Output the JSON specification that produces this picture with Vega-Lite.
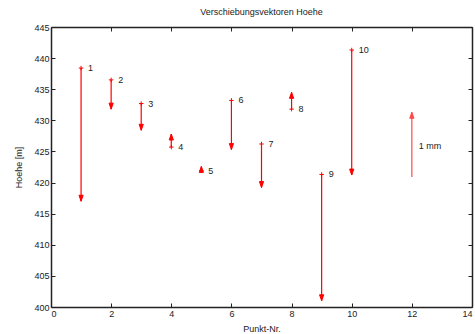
{
  "$schema": "https://vega.github.io/schema/vega-lite/v6.json",
  "autosize": "none",
  "width": 421,
  "height": 280,
  "padding": {"left": 51, "top": 27, "right": 3, "bottom": 27},
  "background": "white",
  "config": {
    "view": {"stroke": null},
    "font": "Liberation Sans",
    "axis": {
      "grid": false,
      "domainColor": "#222222",
      "domainWidth": 1.5,
      "tickColor": "#222222",
      "tickWidth": 1,
      "tickSize": -4,
      "labelFont": "Liberation Sans",
      "labelFontSize": 9,
      "labelColor": "#222222",
      "titleFont": "Liberation Sans",
      "titleFontSize": 9,
      "titleFontWeight": "normal",
      "titleColor": "#222222"
    },
    "title": {"font": "Liberation Sans", "fontSize": 9, "fontWeight": "normal", "color": "#222222", "offset": 6}
  },
  "title": {"text": "Verschiebungsvektoren Hoehe", "anchor": "middle"},
  "datasets": {
    "vectors": [
      {"punkt": 1, "nr": "1", "start": 438.4, "end": 417.0},
      {"punkt": 2, "nr": "2", "start": 436.5, "end": 431.8},
      {"punkt": 3, "nr": "3", "start": 432.7, "end": 428.4},
      {"punkt": 4, "nr": "4", "start": 425.7, "end": 427.8},
      {"punkt": 5, "nr": "5", "start": 421.9, "end": 422.6},
      {"punkt": 6, "nr": "6", "start": 433.2, "end": 425.3},
      {"punkt": 7, "nr": "7", "start": 426.2, "end": 419.2},
      {"punkt": 8, "nr": "8", "start": 431.8, "end": 434.5},
      {"punkt": 9, "nr": "9", "start": 421.3, "end": 401.0},
      {"punkt": 10, "nr": "10", "start": 441.3, "end": 421.2}
    ],
    "scalebar": [
      {"punkt": 12, "start": 420.9, "end": 431.3}
    ],
    "scalelabel": [
      {"punkt": 12, "hoehe": 425.9, "text": "1 mm"}
    ]
  },
  "resolve": {"axis": {"x": "independent", "y": "independent"}},
  "layer": [
    {
      "data": {"name": "vectors"},
      "mark": {"type": "rule", "color": "#ff0000", "strokeWidth": 1.2},
      "encoding": {
        "x": {"field": "punkt", "type": "quantitative",
              "scale": {"domain": [0, 14], "nice": false, "zero": false},
              "axis": {"orient": "bottom", "title": "Punkt-Nr.", "values": [0, 2, 4, 6, 8, 10, 12, 14],
                       "labelPadding": 6, "titlePadding": 6}},
        "y": {"field": "start", "type": "quantitative",
              "scale": {"domain": [400, 445], "nice": false, "zero": false},
              "axis": {"orient": "left", "title": "Hoehe [m]", "values": [400, 405, 410, 415, 420, 425, 430, 435, 440, 445],
                       "labelPadding": 6, "titlePadding": 10}},
        "y2": {"field": "end"}
      }
    },
    {
      "data": {"name": "vectors"},
      "mark": {"type": "point", "shape": "M-1,0L1,0M0,-1L0,1", "filled": false, "color": "#ff0000", "strokeWidth": 1, "size": 20, "opacity": 1},
      "encoding": {
        "x": {"field": "punkt", "type": "quantitative",
              "axis": {"orient": "top", "title": null, "labels": false, "values": [0, 2, 4, 6, 8, 10, 12, 14]}},
        "y": {"field": "start", "type": "quantitative",
              "axis": {"orient": "right", "title": null, "labels": false, "values": [400, 405, 410, 415, 420, 425, 430, 435, 440, 445]}}
      }
    },
    {
      "data": {"name": "vectors"},
      "mark": {"type": "point", "shape": "M-0.7,-2L0,0L0.7,-2Z", "filled": true, "color": "#ff0000", "stroke": "#ff0000", "strokeWidth": 1, "size": 36, "opacity": 1},
      "encoding": {
        "x": {"field": "punkt", "type": "quantitative", "axis": null},
        "y": {"field": "end", "type": "quantitative", "axis": null},
        "angle": {"condition": {"test": "datum.end > datum.start", "value": 180}, "value": 0}
      }
    },
    {
      "data": {"name": "vectors"},
      "mark": {"type": "text", "align": "left", "baseline": "middle", "dx": 7, "fontSize": 9, "color": "#222222", "font": "Liberation Sans"},
      "encoding": {
        "x": {"field": "punkt", "type": "quantitative", "axis": null},
        "y": {"field": "start", "type": "quantitative", "axis": null},
        "text": {"field": "nr"}
      }
    },
    {
      "data": {"name": "scalebar"},
      "mark": {"type": "rule", "color": "#ff4a4a", "strokeWidth": 1.2},
      "encoding": {
        "x": {"field": "punkt", "type": "quantitative", "axis": null},
        "y": {"field": "start", "type": "quantitative", "axis": null},
        "y2": {"field": "end"}
      }
    },
    {
      "data": {"name": "scalebar"},
      "mark": {"type": "point", "shape": "M-0.7,-2L0,0L0.7,-2Z", "filled": true, "color": "#ff4a4a", "stroke": "#ff4a4a", "strokeWidth": 1, "size": 36, "opacity": 1, "angle": 180},
      "encoding": {
        "x": {"field": "punkt", "type": "quantitative", "axis": null},
        "y": {"field": "end", "type": "quantitative", "axis": null}
      }
    },
    {
      "data": {"name": "scalelabel"},
      "mark": {"type": "text", "align": "left", "baseline": "middle", "dx": 7, "fontSize": 9, "color": "#222222", "font": "Liberation Sans"},
      "encoding": {
        "x": {"field": "punkt", "type": "quantitative", "axis": null},
        "y": {"field": "hoehe", "type": "quantitative", "axis": null},
        "text": {"field": "text"}
      }
    }
  ]
}
